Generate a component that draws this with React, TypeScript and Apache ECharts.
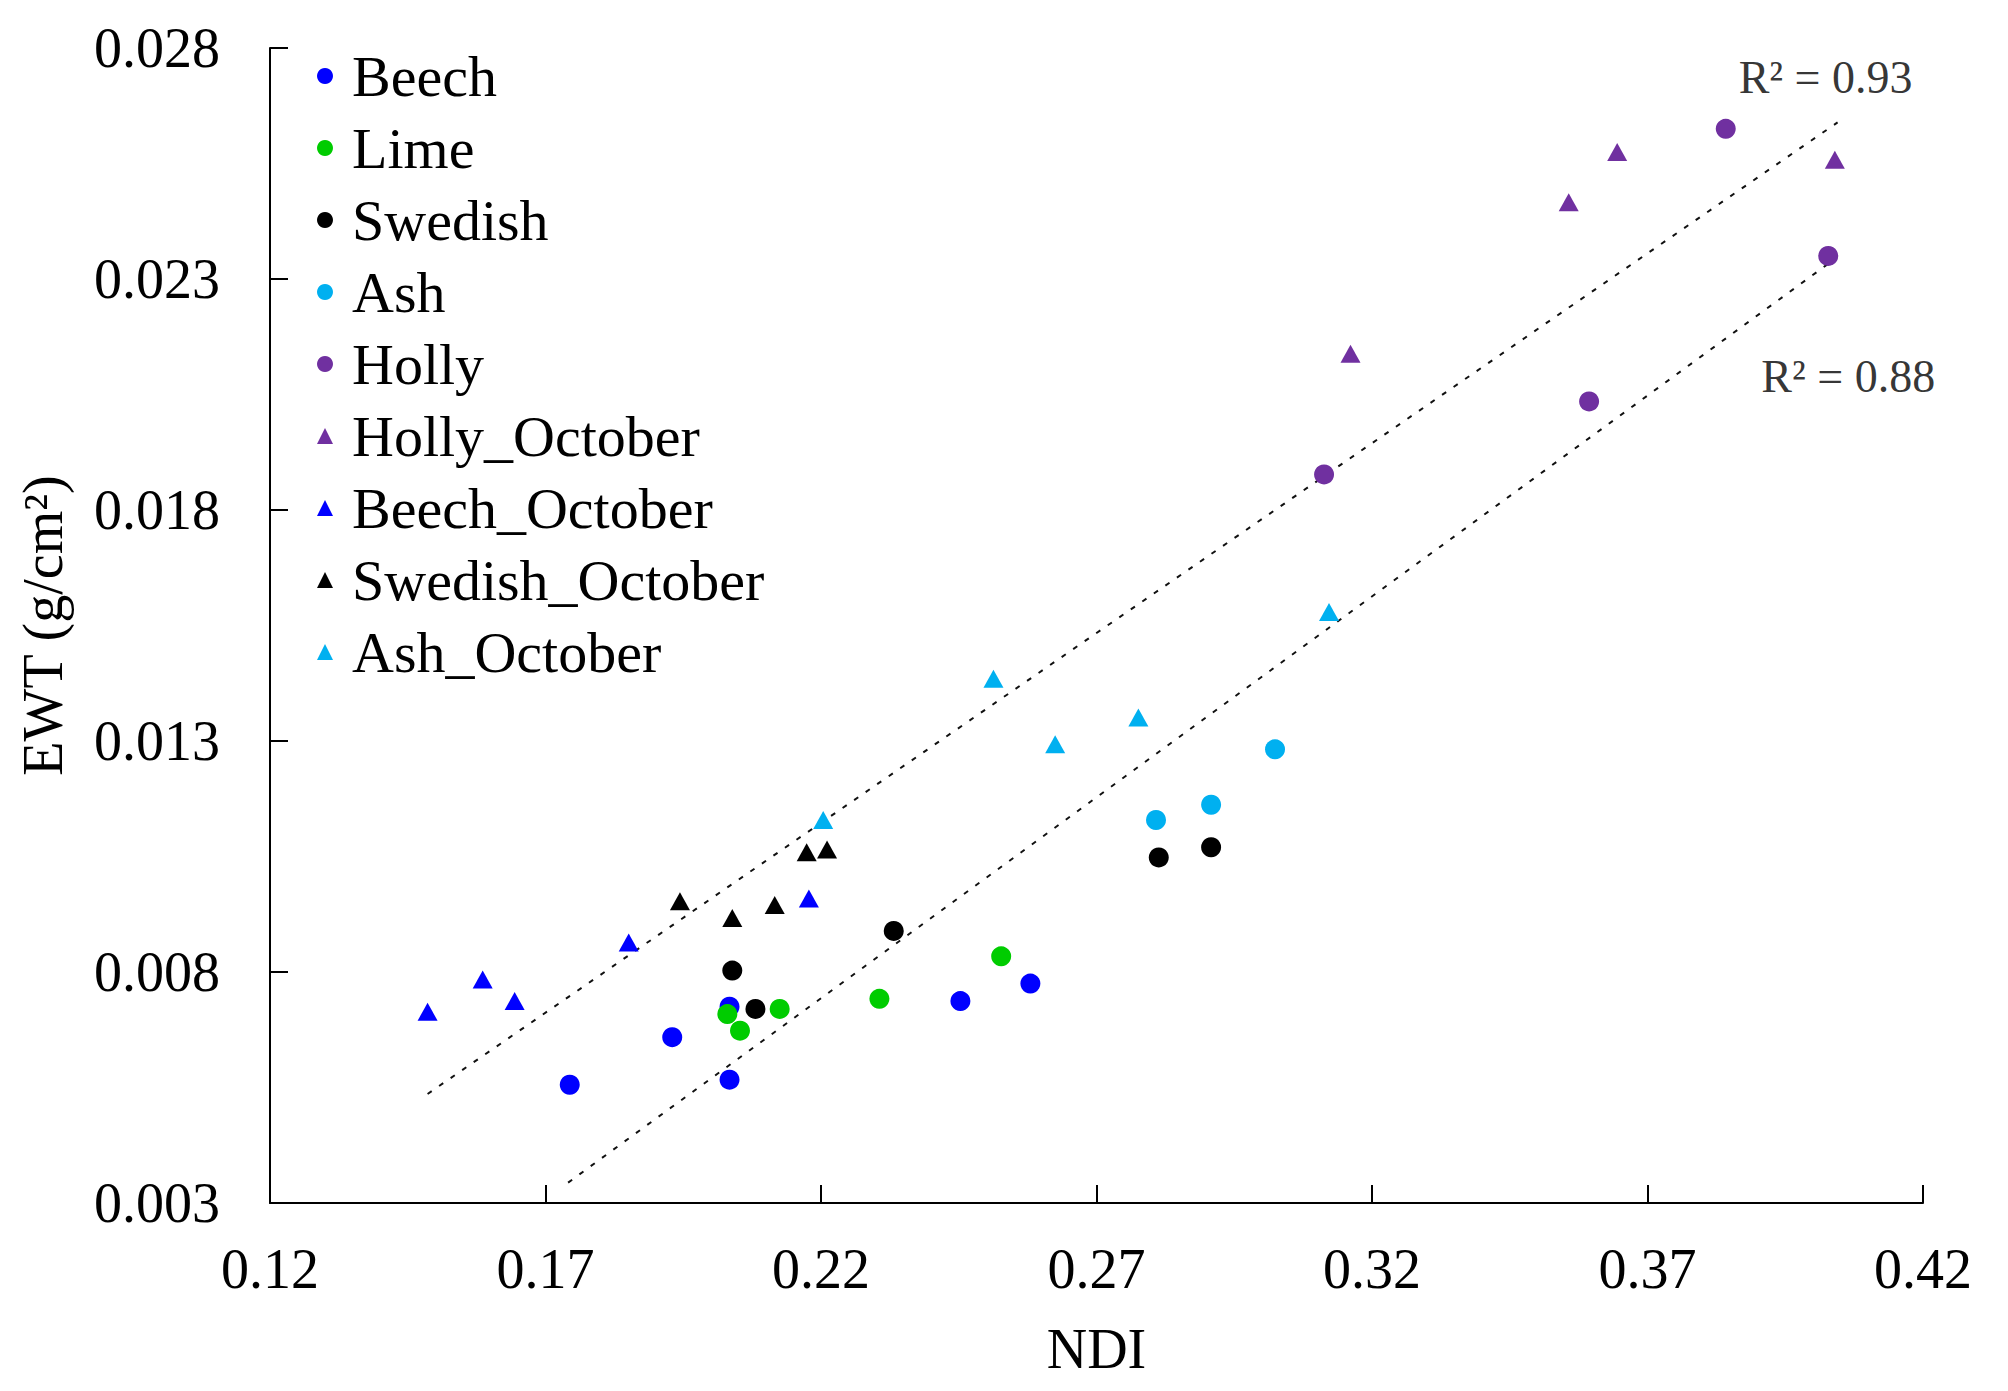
import React, { useEffect, useRef } from "react";
import * as echarts from "echarts";

const xTicks = [0.12, 0.17, 0.22, 0.27, 0.32, 0.37, 0.42];
const yTicks = [0.003, 0.008, 0.013, 0.018, 0.023, 0.028];

const beech = [[0.1744, 0.00556], [0.193, 0.00659], [0.2034, 0.00725], [0.2034, 0.00567], [0.2453, 0.00737], [0.258, 0.00775]];
const lime = [[0.203, 0.00709], [0.2053, 0.00673], [0.2125, 0.0072], [0.2306, 0.00742], [0.2527, 0.00834]];
const swedish = [[0.2039, 0.00803], [0.2081, 0.0072], [0.2332, 0.00889], [0.2813, 0.01048], [0.2908, 0.0107]];
const ash = [[0.2808, 0.01129], [0.2908, 0.01162], [0.3024, 0.01282]];
const holly = [[0.3113, 0.01877], [0.3594, 0.02035], [0.3842, 0.02625], [0.4028, 0.0235]];
const hollyOct = [[0.3161, 0.02138], [0.3557, 0.02466], [0.3645, 0.02575], [0.404, 0.02558]];
const beechOct = [[0.1486, 0.00714], [0.1586, 0.00784], [0.1644, 0.00737], [0.1851, 0.00864], [0.2178, 0.00959]];
const swedishOct = [[0.1944, 0.00953], [0.2039, 0.00917], [0.2116, 0.00945], [0.2174, 0.01059], [0.2211, 0.01065]];
const ashOct = [[0.2204, 0.01129], [0.2513, 0.01435], [0.2625, 0.01293], [0.2776, 0.01351], [0.3122, 0.01579]];

const trendOctober = [[0.1486, 0.00536], [0.4045, 0.02639]];
const trendMain = [[0.1741, 0.00344], [0.4028, 0.02333]];
const r2Labels = ["R\u00B2 = 0.93", "R\u00B2 = 0.88"];

const FONT = "'Liberation Serif', 'Times New Roman', serif";

const seriesDefs = [
  { name: "Beech", data: beech, color: "#0000FF", symbol: "circle" },
  { name: "Lime", data: lime, color: "#00CC00", symbol: "circle" },
  { name: "Swedish", data: swedish, color: "#000000", symbol: "circle" },
  { name: "Ash", data: ash, color: "#00B0F0", symbol: "circle" },
  { name: "Holly", data: holly, color: "#7030A0", symbol: "circle" },
  { name: "Holly_October", data: hollyOct, color: "#7030A0", symbol: "triangle" },
  { name: "Beech_October", data: beechOct, color: "#0000FF", symbol: "triangle" },
  { name: "Swedish_October", data: swedishOct, color: "#000000", symbol: "triangle" },
  { name: "Ash_October", data: ashOct, color: "#00B0F0", symbol: "triangle" },
];

export default function App() {
  const ref = useRef<HTMLDivElement>(null);
  useEffect(() => {
    if (!ref.current) return;
    const chart = echarts.init(ref.current, null, { renderer: "svg" });
    const axisCommon = {
      type: "value",
      nameLocation: "middle",
      nameTextStyle: { fontSize: 56, fontFamily: FONT, color: "#000" },
      axisLine: { show: true, onZero: false, lineStyle: { color: "#000", width: 2 } },
      axisTick: { show: true, inside: true, length: 18, lineStyle: { color: "#000", width: 2 } },
      splitLine: { show: false },
    };
    const option: any = {
      animation: false,
      backgroundColor: "#fff",
      grid: { left: 270, right: 85, top: 48, bottom: 188, containLabel: false },
      legend: {
        orient: "vertical",
        left: 312,
        top: 42,
        itemWidth: 16,
        itemHeight: 16,
        itemGap: 14,
        textStyle: { fontSize: 58, fontFamily: FONT, color: "#000", lineHeight: 56, padding: [0, 0, 0, 14] },
        data: seriesDefs.map((s) => ({ name: s.name, icon: s.symbol })),
      },
      xAxis: {
        ...axisCommon,
        min: xTicks[0],
        max: xTicks[xTicks.length - 1],
        interval: 0.05,
        name: "NDI",
        nameGap: 118,
        axisTick: { ...axisCommon.axisTick, customValues: xTicks },
        axisLabel: {
          fontSize: 56,
          fontFamily: FONT,
          color: "#000",
          margin: 38,
          customValues: xTicks,
          formatter: (v: number) => v.toFixed(2),
        },
      },
      yAxis: {
        ...axisCommon,
        min: yTicks[0],
        max: yTicks[yTicks.length - 1],
        interval: 0.005,
        name: "EWT (g/cm\u00B2)",
        nameGap: 199,
        axisTick: { ...axisCommon.axisTick, customValues: yTicks },
        axisLabel: {
          fontSize: 56,
          fontFamily: FONT,
          color: "#000",
          margin: 50,
          customValues: yTicks,
          formatter: (v: number) => v.toFixed(3),
        },
      },
      series: [
        {
          type: "line",
          name: "trend_october",
          data: trendOctober,
          symbol: "none",
          silent: true,
          lineStyle: { color: "#111", width: 2, type: [5, 9] },
          z: 1,
        },
        {
          type: "line",
          name: "trend_main",
          data: trendMain,
          symbol: "none",
          silent: true,
          lineStyle: { color: "#111", width: 2, type: [5, 9] },
          z: 1,
        },
        ...seriesDefs.map((s) => ({
          type: "scatter",
          name: s.name,
          data: s.data,
          symbol: s.symbol,
          symbolSize: s.symbol === "circle" ? 20 : [20, 18],
          itemStyle: { color: s.color, opacity: 1 },
          z: 3,
        })),
        {
          type: "scatter",
          name: "r2",
          symbolSize: 0,
          silent: true,
          data: [
            {
              value: trendOctober[1],
              label: { show: true, formatter: r2Labels[0], position: "top", distance: 22, offset: [-12, 0] },
            },
            {
              value: trendMain[1],
              label: { show: true, formatter: r2Labels[1], position: "bottom", distance: 90, offset: [20, 0] },
            },
          ],
          label: { fontSize: 46, fontFamily: FONT, color: "#000" },
          z: 4,
        },
      ],
    };
    chart.setOption(option);
    return () => chart.dispose();
  }, []);
  return <div ref={ref} style={{ position: "absolute", left: 0, top: 0, width: 2008, height: 1391 }} />;
}
